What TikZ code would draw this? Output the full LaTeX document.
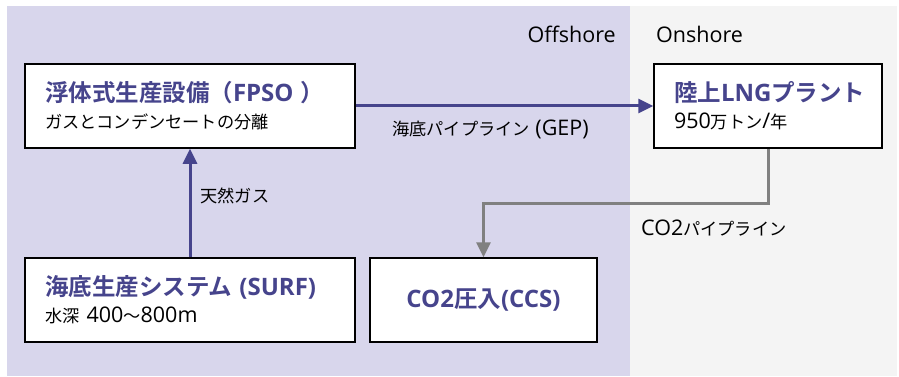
\documentclass[tikz,border=0pt]{standalone}
\usepackage{fontspec}
\setmainfont{Open Sans}
\newfontfamily\cjk{Noto Sans CJK JP}[BoldFont={Noto Sans CJK JP Bold}]
\usetikzlibrary{arrows.meta}
\tikzset{>={Triangle[length=15pt,width=14pt]}}

\definecolor{seablue}{RGB}{70,68,140}
\definecolor{offbg}{RGB}{216,214,236}
\definecolor{onbg}{RGB}{244,244,244}
\definecolor{pipegray}{RGB}{128,128,128}

\newcommand\jt[1]{{\cjk\fontsize{23.5}{27}\selectfont #1}}
\newcommand\jb[1]{{\cjk\fontsize{17.2}{27}\selectfont #1}}
\newcommand\ttl{\bfseries\color{seablue}\fontsize{24}{27}\selectfont}

\tikzset{
  box/.style={draw=black,line width=1.5pt,fill=white,minimum width=330pt,minimum height=84pt,
    inner xsep=20pt,text width=290pt,align=left,font=\fontsize{21.5}{27}\selectfont},
  pipe/.style={->,line width=3pt},
  lbl/.style={text=black,font=\fontsize{21.5}{25}\selectfont,inner sep=0pt}
}

\begin{document}
\begin{tikzpicture}[x=1pt,y=-1pt]
    \useasboundingbox (0,0) rectangle (899,377);

    % offshore / onshore areas
    \fill[offbg] (7,6) rectangle (630,376);
    \fill[onbg] (630,6) rectangle (897,376);
    \node[lbl,anchor=base east] (off) at (616,43) {Offshore};
    \node[lbl,anchor=base west] (on) at (656,43) {Onshore};

    \node[box] (fpso) at (190,106) {{\ttl\jt{浮体式生産設備（}FPSO\jt{ ）}}\\\jb{ガスとコンデンセートの分離}};
    \node[box,minimum width=228pt,text width=188pt] (lng) at (768,106) {{\ttl\jt{陸上}LNG\jt{プラント}}\\950\jb{万トン}/\jb{年}};
    \node[box] (surf) at (190,300) {{\ttl\jt{海底生産システム} (SURF)}\\\jb{水深} 400\jb{～}800m};
    \node[box,minimum width=227pt,text width=187pt,align=center] (ccs) at (483.5,300) {{\ttl CO2\jt{圧入}(CCS)}};

    \draw[pipe,seablue] (fpso) -- (lng) node[lbl,midway,below=12pt,xshift=-14pt] (gep) {\jb{海底パイプライン} (GEP)};
    \draw[pipe,seablue] (surf) -- (fpso) node[lbl,midway,anchor=west,xshift=9pt,yshift=7pt] (gas) {\jb{天然ガス}};
    \draw[pipe,pipegray] (lng.south) -- ++(0,55) -| (ccs.north);
    \node[lbl,anchor=west] (co2) at (641,228) {CO2\jb{パイプライン}};
\end{tikzpicture}
\end{document}
